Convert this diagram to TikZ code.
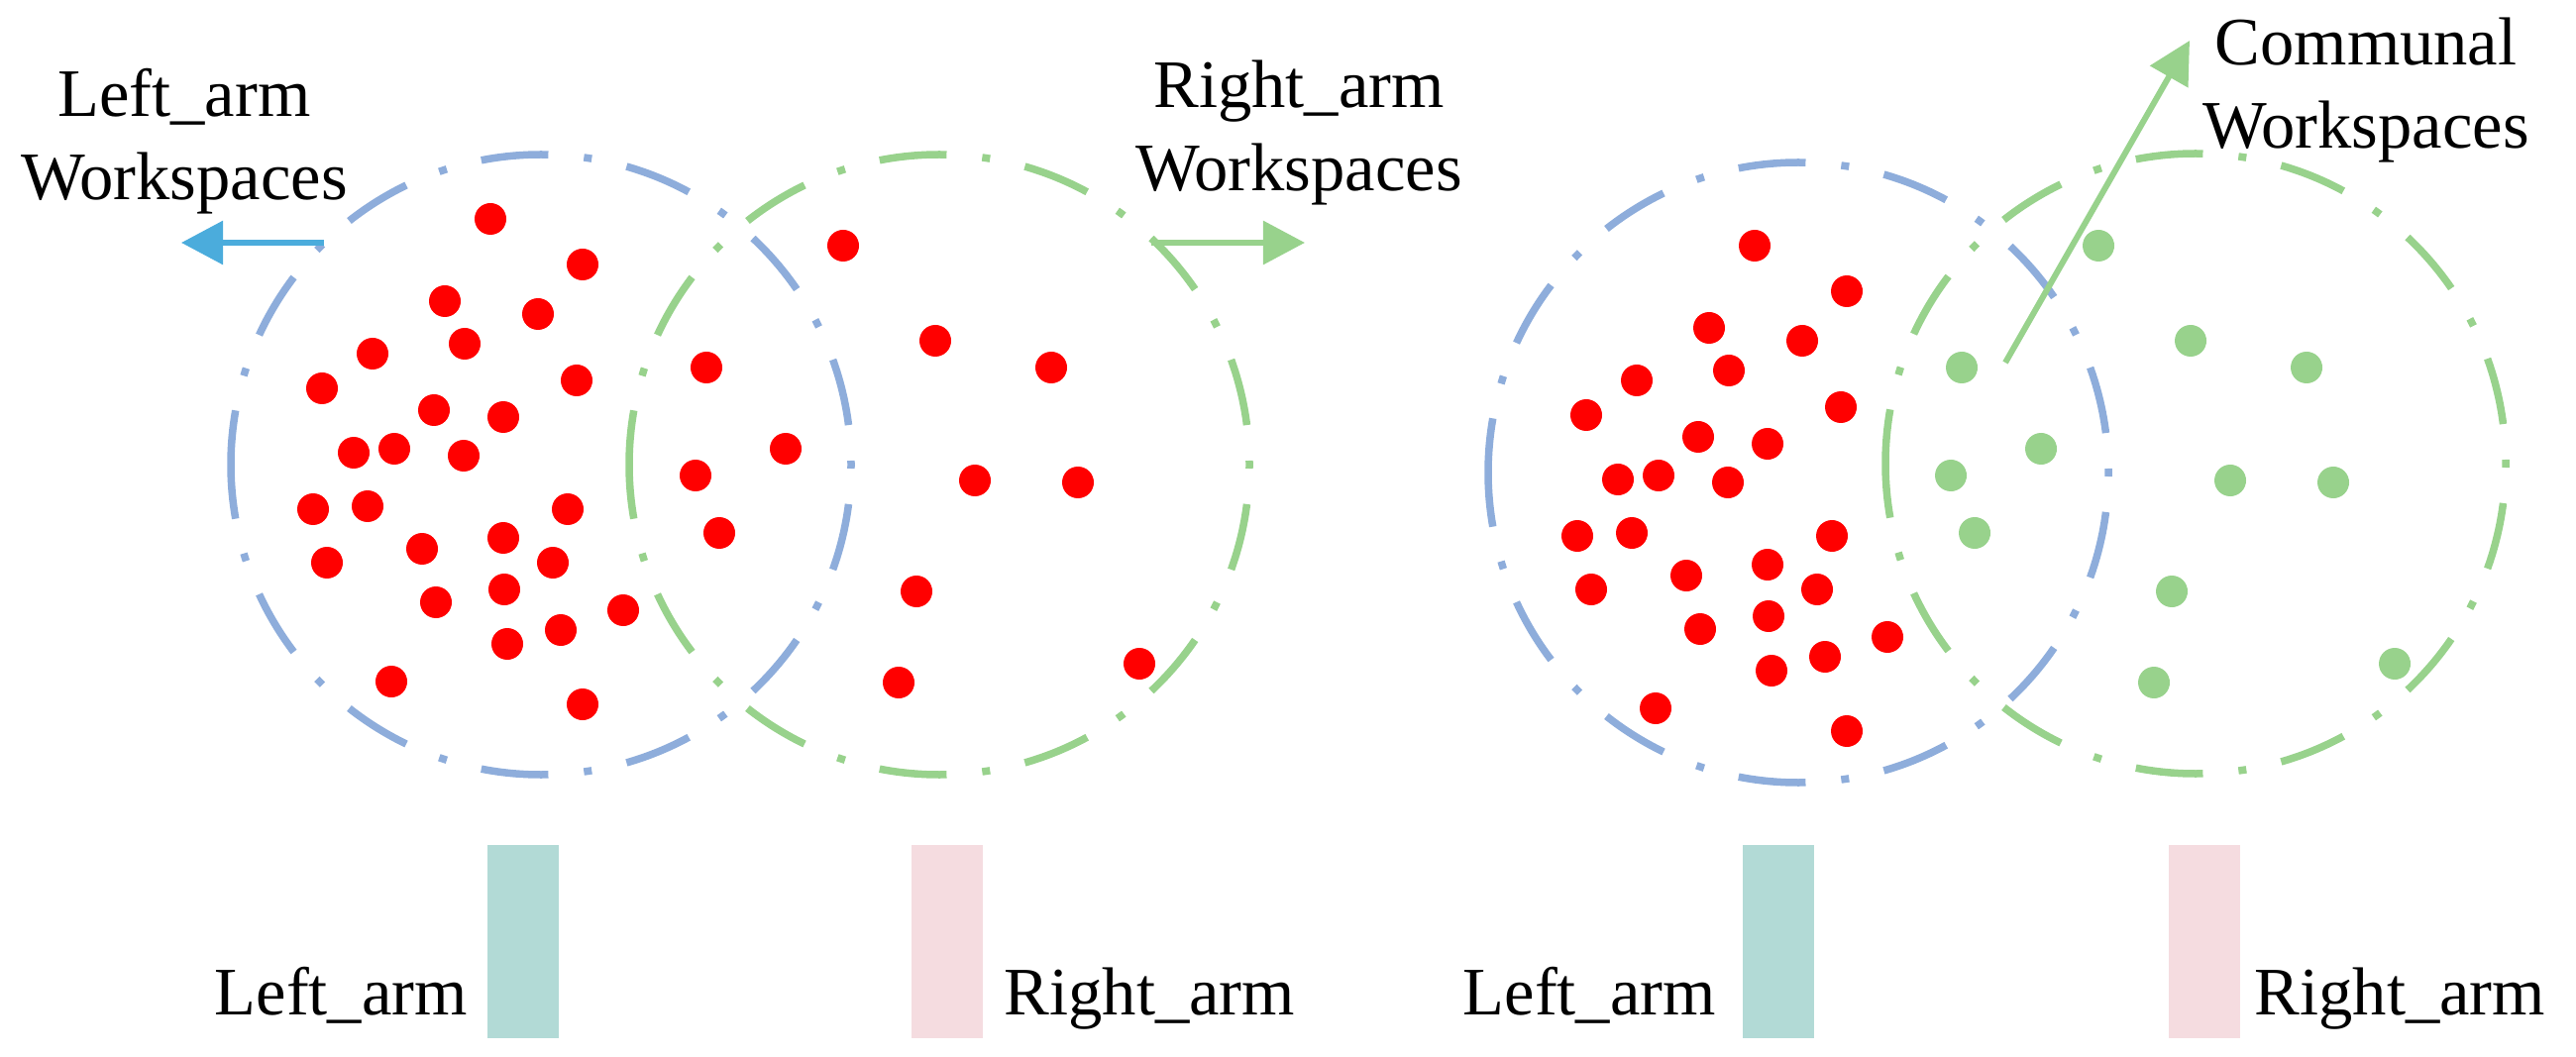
\documentclass[tikz,border=0pt]{standalone}
\usepackage{fontspec}
\setmainfont{Liberation Serif}
\usetikzlibrary{arrows.meta}
\definecolor{ArmBlue}{HTML}{8EADDB}
\definecolor{ArmGreen}{HTML}{98D28C}
\definecolor{PointerBlue}{HTML}{4BACDC}
\definecolor{BarTeal}{HTML}{B2DAD6}
\definecolor{BarPink}{HTML}{F5DCE0}
\def\innerpts{495/221,588/267,449/304,543/317,469/347,376/357,325/392,582/384,438/414,508/421,357/457,398/453,468/460,316/514,371/511,573/514,508/543,426/554,330/568,558/568,509/595,440/608,629/616,566/636,512/650,395/688,588/711}
\def\outerpts{851/248,713/371,793/453,702/480,726/538,944/344,1061/371,984/485,1088/487,925/597,1150/670,907/689}
\tikzset{
  reach/.style={line width=0.075cm,dash pattern=on 0.08cm off 0.36cm on 0.68cm off 0.36cm,dash phase=0.04cm},
  pointer/.style={line width=0.06cm,-{Triangle[length=0.42cm,width=0.43cm]}},
  lbl/.style={inner sep=0pt,align=center,font=\fontsize{19.5}{23.9}\selectfont}
}

\begin{document}
\begin{tikzpicture}[x=0.01cm,y=-0.01cm]
  \useasboundingbox (0,0) rectangle (2600,1067);
  % workspaces, each drawn as two halves from the right
  \foreach \cx/\cy/\c in {546/469/ArmBlue,948/469/ArmGreen,1815/477/ArmBlue,2216/468/ArmGreen}{
    \draw[reach,\c] (\cx+313,\cy) arc[start angle=0,end angle=180,radius=313];
    \draw[reach,\c] (\cx+313,\cy) arc[start angle=0,end angle=-180,radius=313];
  }
  % without shared space
  \foreach \x/\y in \innerpts {\fill[red] (\x,\y) circle[radius=16];}
  \foreach \x/\y in \outerpts {\fill[red] (\x,\y) circle[radius=16];}
  % with shared space
  \begin{scope}[shift={(1276,27)}]
    \foreach \x/\y in \innerpts {\fill[red] (\x,\y) circle[radius=16];}
  \end{scope}
  \begin{scope}[shift={(1267,0)}]
    \foreach \x/\y in \outerpts {\fill[ArmGreen] (\x,\y) circle[radius=16];}
  \end{scope}

  \coordinate (lw-from) at (327,245);
  \coordinate (lw-to) at (183,245);
  \coordinate (rw-from) at (1162,245);
  \coordinate (rw-to) at (1317,245);
  \coordinate (cw-from) at (2024,366);
  \coordinate (cw-to) at (2210,41);
  \draw[pointer,PointerBlue] (lw-from) -- (lw-to);
  \draw[pointer,ArmGreen] (rw-from) -- (rw-to);
  \draw[pointer,ArmGreen] (cw-from) -- (cw-to);

  \node[lbl,anchor=base] (lw-text) at (186,202) {Left\_arm\\Workspaces};
  \node[lbl,anchor=base] (rw-text) at (1311,193) {Right\_arm\\Workspaces};
  \node[lbl,anchor=base] (cw-text) at (2388,150) {Communal\\Workspaces};

  \foreach \x/\c in {492/BarTeal,920/BarPink,1759/BarTeal,2189/BarPink}{\fill[\c] (\x,853) rectangle +(72,195);}
  \node[lbl,anchor=base west] (la-one) at (216,1024) {Left\_arm};
  \node[lbl,anchor=base west] (ra-one) at (1013,1024) {Right\_arm};
  \node[lbl,anchor=base west] (la-two) at (1476,1024) {Left\_arm};
  \node[lbl,anchor=base west] (ra-two) at (2275,1024) {Right\_arm};
\end{tikzpicture}
\end{document}
